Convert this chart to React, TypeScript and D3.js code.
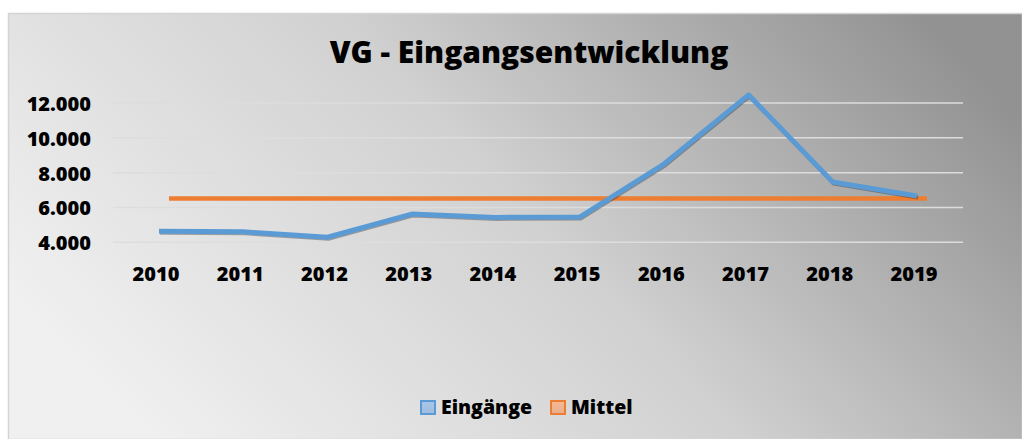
import React from 'react';
import * as d3 from 'd3';

const years = ['2010', '2011', '2012', '2013', '2014', '2015', '2016', '2017', '2018', '2019'];
const eingaenge = [4630, 4600, 4290, 5620, 5430, 5460, 8510, 12470, 7460, 6660];
const mittel = [6513, 6513, 6513, 6513, 6513, 6513, 6513, 6513, 6513, 6513];
const yTicks = [4000, 6000, 8000, 10000, 12000];
const title = 'VG - Eingangsentwicklung';
const legendItems = [
  { name: 'Eingänge', color: '#5b9bd5', fill: '#a9c6ea' },
  { name: 'Mittel', color: '#ed7d31', fill: '#f5b996' },
];

const W = 1022;
const H = 439;
const font = "'Open Sans', 'DejaVu Sans', sans-serif";

const de = d3.formatLocale({ decimal: ',', thousands: '.', grouping: [3], currency: ['', ' €'] });
const fmt = de.format(',d');

const App = () => {
  const x = d3.scalePoint<string>().domain(years).range([159, 917]);
  const y = d3.scaleLinear().domain([4000, 12000]).range([242.3, 103]);

  const line = d3
    .line<number>()
    .x((_, i) => x(years[i]) as number)
    .y(d => y(d));

  // the average line sits a little to the right of the category points
  const mittelLine = d3
    .line<number>()
    .x((_, i) => (x(years[i]) as number) + 10)
    .y(d => y(d));

  const gridLeft = 113;
  const gridRight = 963;

  return (
    <svg width={W} height={H} style={{ position: 'absolute', left: 0, top: 0 }}>
      <defs>
        <linearGradient id="bg" x1="0" y1="0.65" x2="1" y2="0.25">
          <stop offset="0" stopColor="#f0f0f0" />
          <stop offset="0.5" stopColor="#d1d1d1" />
          <stop offset="1" stopColor="#929292" />
        </linearGradient>
        {legendItems.map((l, i) => (
          <linearGradient key={i} id={`lg${i}`} x1="0" y1="0" x2="0" y2="1">
            <stop offset="0" stopColor={l.fill} />
            <stop offset="1" stopColor={d3.color(l.fill)!.darker(0.15).toString()} />
          </linearGradient>
        ))}
      </defs>

      <rect x={8.5} y={13.5} width={W - 8} height={H - 13} fill="url(#bg)" stroke="#d4d4d4" strokeWidth={1.5} />

      <text
        x={529}
        y={63}
        textAnchor="middle"
        fontFamily={font}
        fontWeight={800}
        fontSize={30}
        fill="#000"
      >
        {title}
      </text>

      {yTicks.map(t => (
        <g key={t}>
          <line x1={gridLeft} x2={gridRight} y1={y(t)} y2={y(t)} stroke="#dddddd" strokeWidth={1.5} />
          <text
            x={91}
            y={y(t) + 8}
            textAnchor="end"
            fontFamily={font}
            fontWeight={800}
            fontSize={20}
            fill="#000"
          >
            {fmt(t)}
          </text>
        </g>
      ))}

      {years.map(yr => (
        <text
          key={yr}
          x={(x(yr) as number) - 3}
          y={281}
          textAnchor="middle"
          fontFamily={font}
          fontWeight={800}
          fontSize={20}
          fill="#000"
        >
          {yr}
        </text>
      ))}

      <path d={mittelLine(mittel) || ''} fill="none" stroke="#ed7d31" strokeWidth={4.5} />

      <path
        d={line(eingaenge) || ''}
        fill="none"
        stroke="rgba(0,0,0,0.3)"
        strokeWidth={4}
        strokeLinejoin="round"
        transform="translate(1,1.5)"
      />
      <path d={line(eingaenge) || ''} fill="none" stroke="#5b9bd5" strokeWidth={5} strokeLinejoin="round" />

      {legendItems.map((l, i) => {
        const lx = i === 0 ? 421 : 551;
        return (
          <g key={l.name}>
            <rect x={lx} y={401} width={14} height={13} fill={`url(#lg${i})`} stroke={l.color} strokeWidth={2} />
            <text x={lx + 20} y={414} fontFamily={font} fontWeight={800} fontSize={19.5} fill="#000">
              {l.name}
            </text>
          </g>
        );
      })}
    </svg>
  );
};

export default App;
